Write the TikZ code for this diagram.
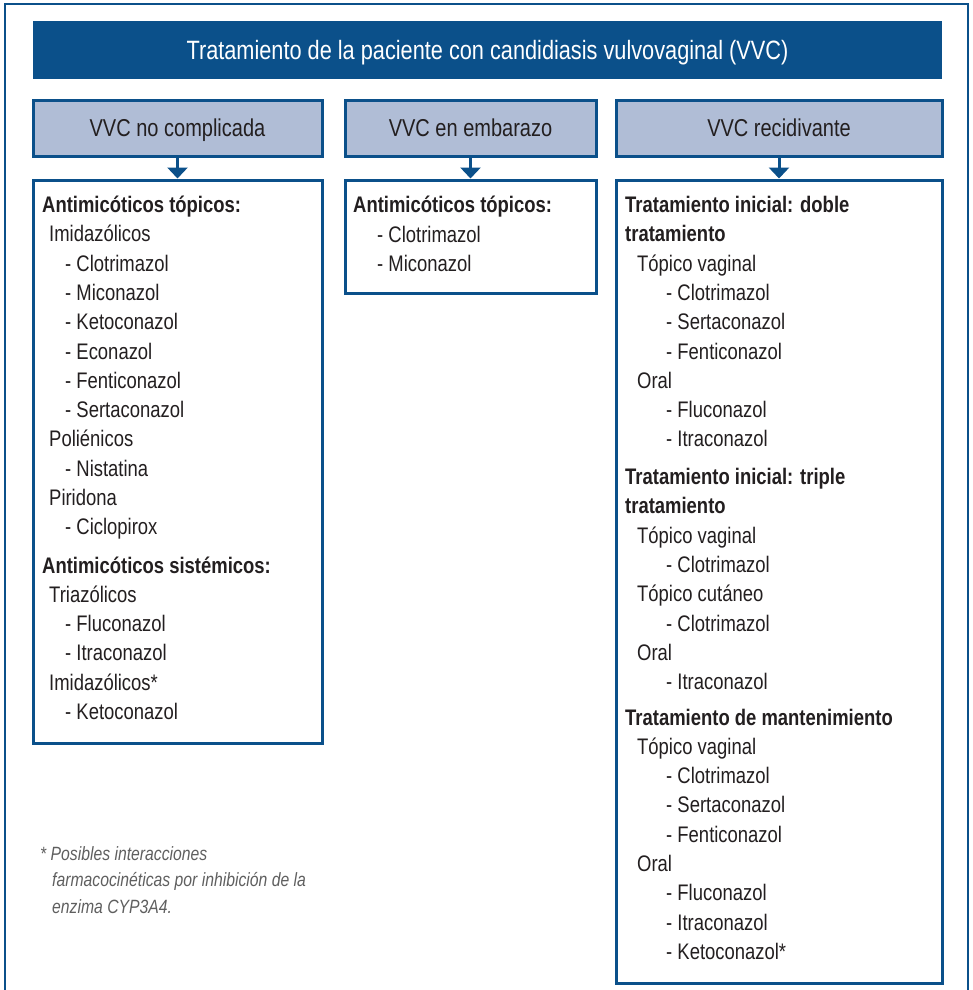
\documentclass[tikz,border=0pt]{standalone}
\usepackage{fontspec}
\setmainfont{Liberation Sans}[FakeStretch=0.82]
\usepackage{xcolor}
\definecolor{myblue}{RGB}{11,80,138}
\definecolor{mylight}{RGB}{176,189,214}
\definecolor{mytext}{RGB}{35,31,32}
\definecolor{mynote}{RGB}{95,95,95}
\usetikzlibrary{arrows.meta}

\begin{document}
\begin{tikzpicture}[x=1pt,y=-1pt]
	\tikzstyle{hdr}=[draw=myblue,line width=3pt,fill=mylight,minimum height=56pt,text=mytext,font=\fontsize{24.4}{28}\selectfont,text depth=0pt];
	\tikzstyle{cbox}=[draw=myblue,line width=3pt,fill=white];
	\tikzstyle{itm}=[anchor=base west,inner sep=0pt,text=mytext,font=\fontsize{22.5}{26}\selectfont];
	\tikzstyle{note}=[anchor=base west,inner sep=0pt,text=mynote,font=\fontsize{19.2}{22}\selectfont\itshape];
	\tikzstyle{arr}=[myblue,line width=3pt,-{Triangle[width=20pt,length=11pt]}];
	\useasboundingbox (0,0) rectangle (972,990);
	%% Frame
	\draw[myblue,line width=2.5pt] (5,990) -- (5,4) -- (968,4) -- (968,990);
	%% Title
	\node[fill=myblue,minimum width=909pt,minimum height=58pt,text=white,font=\fontsize{26.5}{30}\selectfont,text depth=0pt] (title) at (487.5,50) {Tratamiento de la paciente con candidiasis vulvovaginal (VVC)};
	%% Headers
	\node[hdr,minimum width=289pt] (h1) at (177.5,128) {VVC no complicada};
	\node[hdr,minimum width=251pt] (h2) at (470.5,128) {VVC en embarazo};
	\node[hdr,minimum width=326pt] (h3) at (779,128) {VVC recidivante};
	%% Boxes
	\node[cbox,minimum width=289pt,minimum height=563pt] (b1) at (177.5,461.5) {};
	\node[cbox,minimum width=251pt,minimum height=113pt] (b2) at (470.5,236.5) {};
	\node[cbox,minimum width=326pt,minimum height=803pt] (b3) at (779,581.5) {};
	%% Arrows
	\draw[arr] (h1) -- (b1);
	\draw[arr] (h2) -- (b2);
	\draw[arr] (h3) -- (b3);
	%% Uncomplicated
	\foreach \x/\y/\lbl [count=\i] in {42/212.5/\textbf{Antimicóticos tópicos:}, 49/241.8/Imidazólicos,
		65/271.1/- Clotrimazol, 65/300.4/- Miconazol, 65/329.7/- Ketoconazol, 65/359/- Econazol,
		65/388.3/- Fenticonazol, 65/417.6/- Sertaconazol, 49/446.9/Poliénicos, 65/476.2/- Nistatina,
		49/505.5/Piridona, 65/534.8/- Ciclopirox, 42/573/\textbf{Antimicóticos sistémicos:},
		49/602.3/Triazólicos, 65/631.6/- Fluconazol, 65/660.9/- Itraconazol, 49/690.2/Imidazólicos*,
		65/719.5/- Ketoconazol}
		\node[itm] (l\i) at (\x,\y) {\lbl};
	%% Pregnancy
	\foreach \x/\y/\lbl [count=\i] in {353/212.5/\textbf{Antimicóticos tópicos:}, 377/242/- Clotrimazol,
		377/271.3/- Miconazol}
		\node[itm] (m\i) at (\x,\y) {\lbl};
	%% Recurrent
	\foreach \x/\y/\lbl [count=\i] in {625/212.5/\textbf{Tratamiento inicial: doble}, 625/241.8/\textbf{tratamiento},
		637/271.1/Tópico vaginal, 666/300.4/- Clotrimazol, 666/329.7/- Sertaconazol, 666/359/- Fenticonazol,
		637/388.3/Oral, 666/417.6/- Fluconazol, 666/446.9/- Itraconazol,
		625/484.5/\textbf{Tratamiento inicial: triple}, 625/513.8/\textbf{tratamiento},
		637/543.1/Tópico vaginal, 666/572.4/- Clotrimazol, 637/601.7/Tópico cutáneo, 666/631/- Clotrimazol,
		637/660.3/Oral, 666/689.6/- Itraconazol,
		625/725/\textbf{Tratamiento de mantenimiento}, 637/754.3/Tópico vaginal, 666/783.6/- Clotrimazol,
		666/812.9/- Sertaconazol, 666/842.2/- Fenticonazol, 637/871.5/Oral, 666/900.8/- Fluconazol,
		666/930.1/- Itraconazol, 666/959.4/- Ketoconazol*}
		\node[itm] (r\i) at (\x,\y) {\lbl};
	%% Footnote
	\foreach \x/\y/\lbl [count=\i] in {40/860/* Posibles interacciones, 52/886.5/farmacocinéticas por inhibición de la,
		52/913/enzima CYP3A4.}
		\node[note] (n\i) at (\x,\y) {\lbl};
\end{tikzpicture}
\end{document}
